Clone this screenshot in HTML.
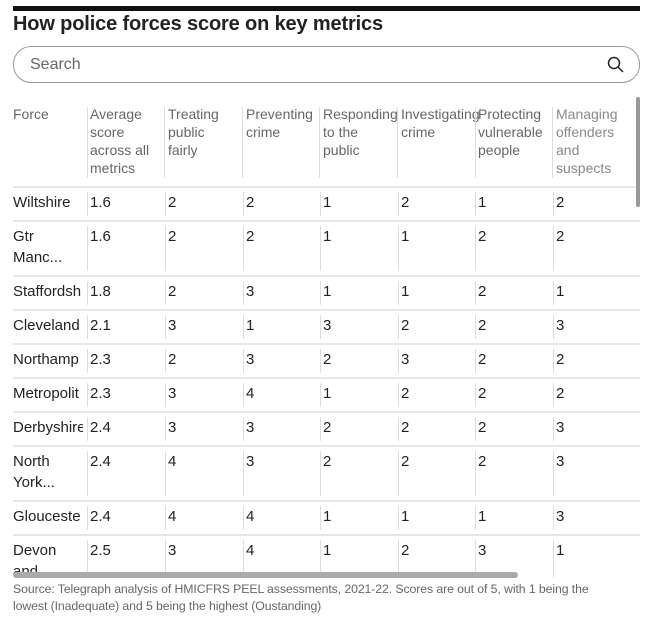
<!DOCTYPE html><html><head><style>
body{margin:0;width:647px;height:636px;background:#fff;font-family:"Liberation Sans",sans-serif;color:#222;position:relative;overflow:hidden}
.a{position:absolute}
.c{position:absolute;font-size:15px;line-height:21px;overflow:hidden;white-space:nowrap}
.s{position:absolute;width:1px;background:#ddd}
.h{position:absolute;font-size:14px;line-height:18px;color:#666;top:105px}
.l{position:absolute;left:13px;width:627px;height:2px;background:#e6e6e6}
</style></head><body>
<div class="a" style="left:13px;top:6px;width:627px;height:5px;background:#111"></div>
<div class="a" style="left:13px;top:13px;font-size:20px;font-weight:bold;color:#222;letter-spacing:-0.15px">How police forces score on key metrics</div>
<div class="a" style="left:13px;top:46px;width:625px;height:35px;border:1px solid #999;border-radius:18px"></div>
<div class="a" style="left:30px;top:56px;font-size:16px;color:#666">Search</div>
<svg class="a" style="left:606px;top:55px" width="20" height="20"><circle cx="8" cy="8" r="5.5" fill="none" stroke="#222" stroke-width="1.5"/><line x1="12" y1="12" x2="17" y2="17" stroke="#222" stroke-width="1.5"/></svg>
<div class="h" style="left:13px">Force</div>
<div class="h" style="left:90px">Average<br>score<br>across all<br>metrics</div>
<div class="h" style="left:168px">Treating<br>public<br>fairly</div>
<div class="h" style="left:246px">Preventing<br>crime</div>
<div class="h" style="left:323px">Responding<br>to the<br>public</div>
<div class="h" style="left:401px">Investigating<br>crime</div>
<div class="h" style="left:478px">Protecting<br>vulnerable<br>people</div>
<div class="h" style="left:556px;color:#888">Managing<br>offenders<br>and<br>suspects</div>
<div class="s" style="left:87px;top:107px;height:71px"></div><div class="s" style="left:164px;top:107px;height:71px"></div><div class="s" style="left:242px;top:107px;height:71px"></div><div class="s" style="left:319px;top:107px;height:71px"></div><div class="s" style="left:397px;top:107px;height:71px"></div><div class="s" style="left:475px;top:107px;height:71px"></div><div class="s" style="left:552px;top:107px;height:71px"></div>
<div class="l" style="top:186px"></div>
<div id="rows"></div>
<div class="a" style="left:636px;top:97px;width:4px;height:110px;background:#999;border-radius:2px"></div>
<div class="a" style="left:13px;top:572px;width:505px;height:6px;background:#aaa;border-radius:3px"></div>
<div class="a" style="left:0;top:578px;width:647px;height:58px;background:#fff"></div>
<div class="a" style="left:13px;top:581px;width:600px;font-size:12.3px;line-height:17px;color:#666;letter-spacing:-0.1px">Source: Telegraph analysis of HMICFRS PEEL assessments, 2021-22. Scores are out of 5, with 1 being the lowest (Inadequate) and 5 being the highest (Oustanding)</div>
<script>
var d=[["Wiltshire","1.6",2,2,1,2,1,2,34],["Gtr<br>Manc...","1.6",2,2,1,1,2,2,55],["Staffordsh","1.8",2,3,1,1,2,1,34],["Cleveland","2.1",3,1,3,2,2,3,34],["Northamp","2.3",2,3,2,3,2,2,34],["Metropolit","2.3",3,4,1,2,2,2,34],["Derbyshire","2.4",3,3,2,2,2,3,34],["North<br>York...","2.4",4,3,2,2,2,3,55],["Glouceste","2.4",4,4,1,1,1,3,34],["Devon<br>and","2.5",3,4,1,2,3,1,55]];
var xs=[13,90,168,246,323,401,478,556],h="",y=187;
d.forEach(function(r,i){var H=r[8];var ch=Math.min(H,578-y);
for(var j=0;j<8;j++){var w=j==0?70:70;h+='<div class="c" style="left:'+xs[j]+'px;top:'+(y+5)+'px;width:'+w+'px;max-height:'+(ch-5)+'px">'+r[j]+'</div>';if(j>0)h+='<div class="s" style="left:'+(xs[j]-3)+'px;top:'+(y+5)+'px;height:'+Math.max(0,Math.min(H-10,ch-5))+'px"></div>';}
y+=H;if(i<9)h+='<div class="l" style="top:'+(y-1)+'px"></div>';});
document.getElementById("rows").innerHTML=h;
</script>
</body></html>
